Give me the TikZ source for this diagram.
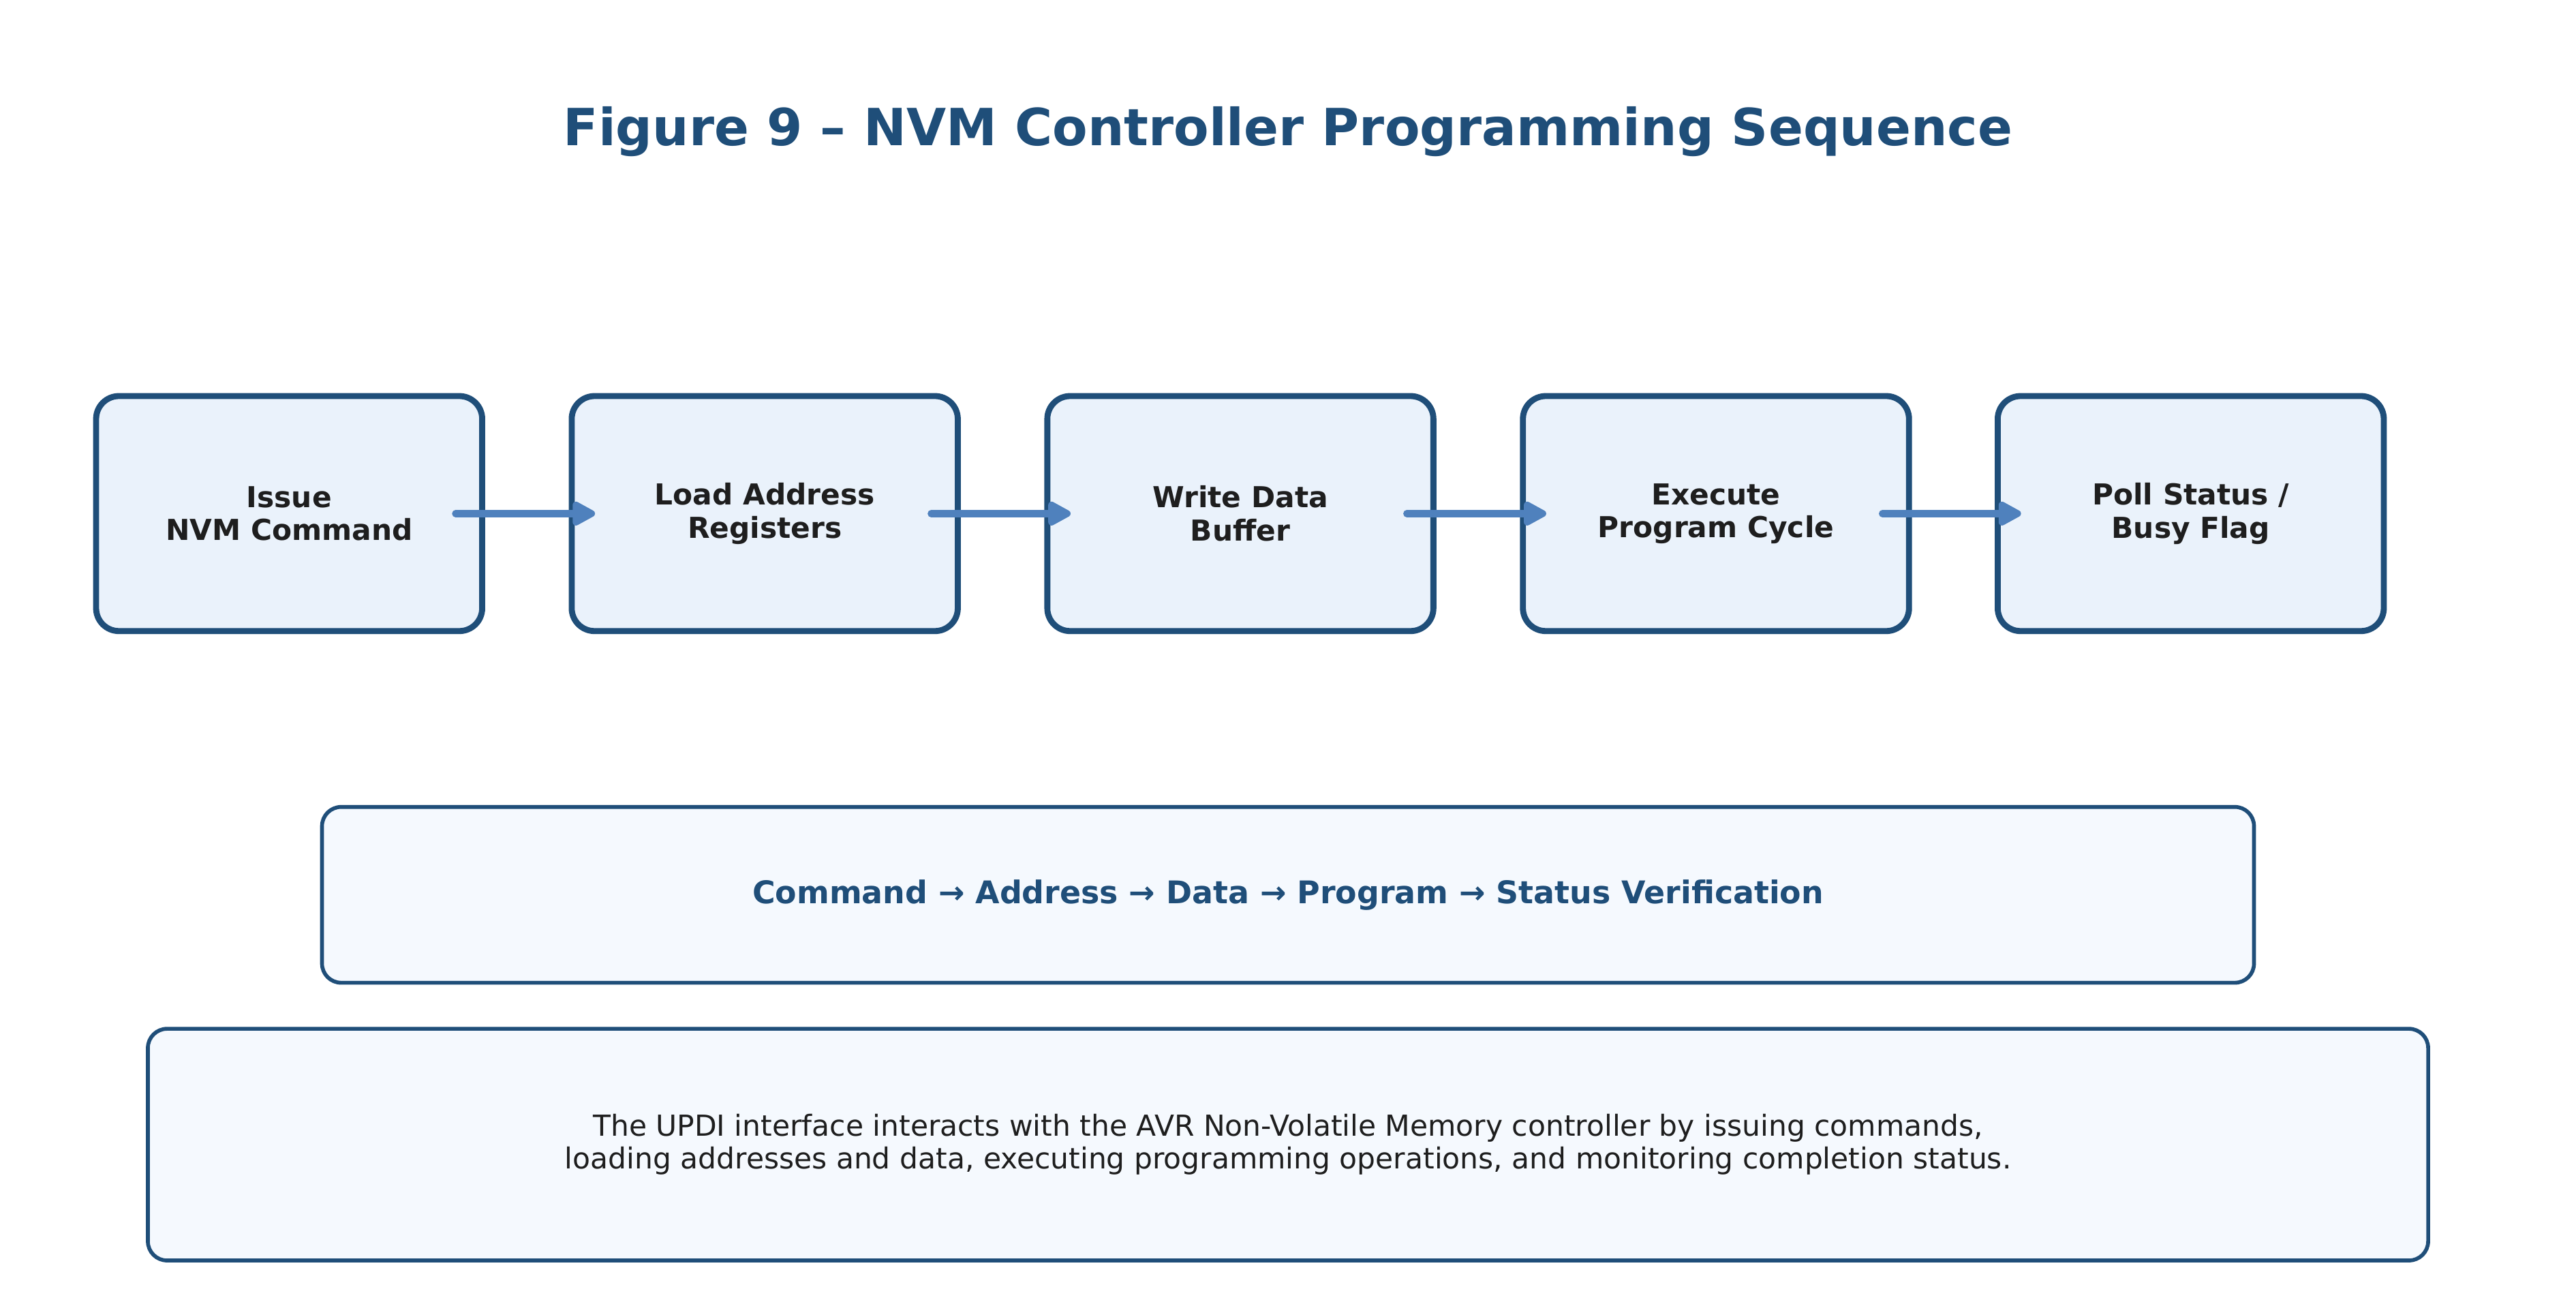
\documentclass[tikz,border=0pt]{standalone}
\usepackage{fontspec}
\setmainfont{DejaVu Sans}
\usetikzlibrary{arrows.meta,calc}
\definecolor{navy}{HTML}{1F4E79}
\definecolor{boxfill}{HTML}{EAF2FB}
\definecolor{sumfill}{HTML}{F5F9FE}
\definecolor{arrowblue}{HTML}{4F81BD}
\definecolor{txt}{HTML}{1E1E1E}
\tikzset{
  stepbox/.style={draw=navy, line width=2.5pt, fill=boxfill, rounded corners=9.5pt,
    minimum width=235*0.6834pt, minimum height=143*0.6834pt, align=center,
    font=\fontsize{12}{13.7}\selectfont\bfseries, text=txt},
  sumbox/.style={draw=navy, line width=1.6pt, fill=sumfill, rounded corners=8pt, align=center},
  flow/.style={draw=arrowblue, line width=3pt, line cap=round,
    -{Triangle[length=11pt,width=11pt,round]}}
}
\begin{document}
\begin{tikzpicture}[x=0.6834pt,y=-0.6834pt]
\useasboundingbox (0,0) rectangle (1568,791);
\node[font=\fontsize{21.3}{25}\selectfont\bfseries, text=navy] (title) at (784,80) {Figure 9 – NVM Controller Programming Sequence};
\node[stepbox] (b1) at (176,312.5) {Issue\\NVM Command};
\node[stepbox] (b2) at (465.5,312.5) {Load Address\\Registers};
\node[stepbox] (b3) at (755,312.5) {Write Data\\Buffer};
\node[stepbox] (b4) at (1044.5,312.5) {Execute\\Program Cycle};
\node[stepbox] (b5) at (1333.5,312.5) {Poll Status /\\Busy Flag};
\foreach \a/\b in {b1/b2,b2/b3,b3/b4,b4/b5}{
  \draw[flow] ($(\a.east)+(-18,0)$) -- ($(\b.west)+(16,0)$);
}
\node[sumbox, minimum width=1176*0.6834pt, minimum height=107*0.6834pt,
  font=\fontsize{13}{16}\selectfont\bfseries, text=navy] (sum) at (784,544.5)
  {Command → Address → Data → Program → Status Verification};
\node[sumbox, minimum width=1388*0.6834pt, minimum height=141*0.6834pt,
  font=\fontsize{12.03}{13.7}\selectfont, text=txt] (desc) at (784,696.5)
  {The UPDI interface interacts with the AVR Non-Volatile Memory controller by issuing commands,\\loading addresses and data, executing programming operations, and monitoring completion status.};
\end{tikzpicture}
\end{document}
